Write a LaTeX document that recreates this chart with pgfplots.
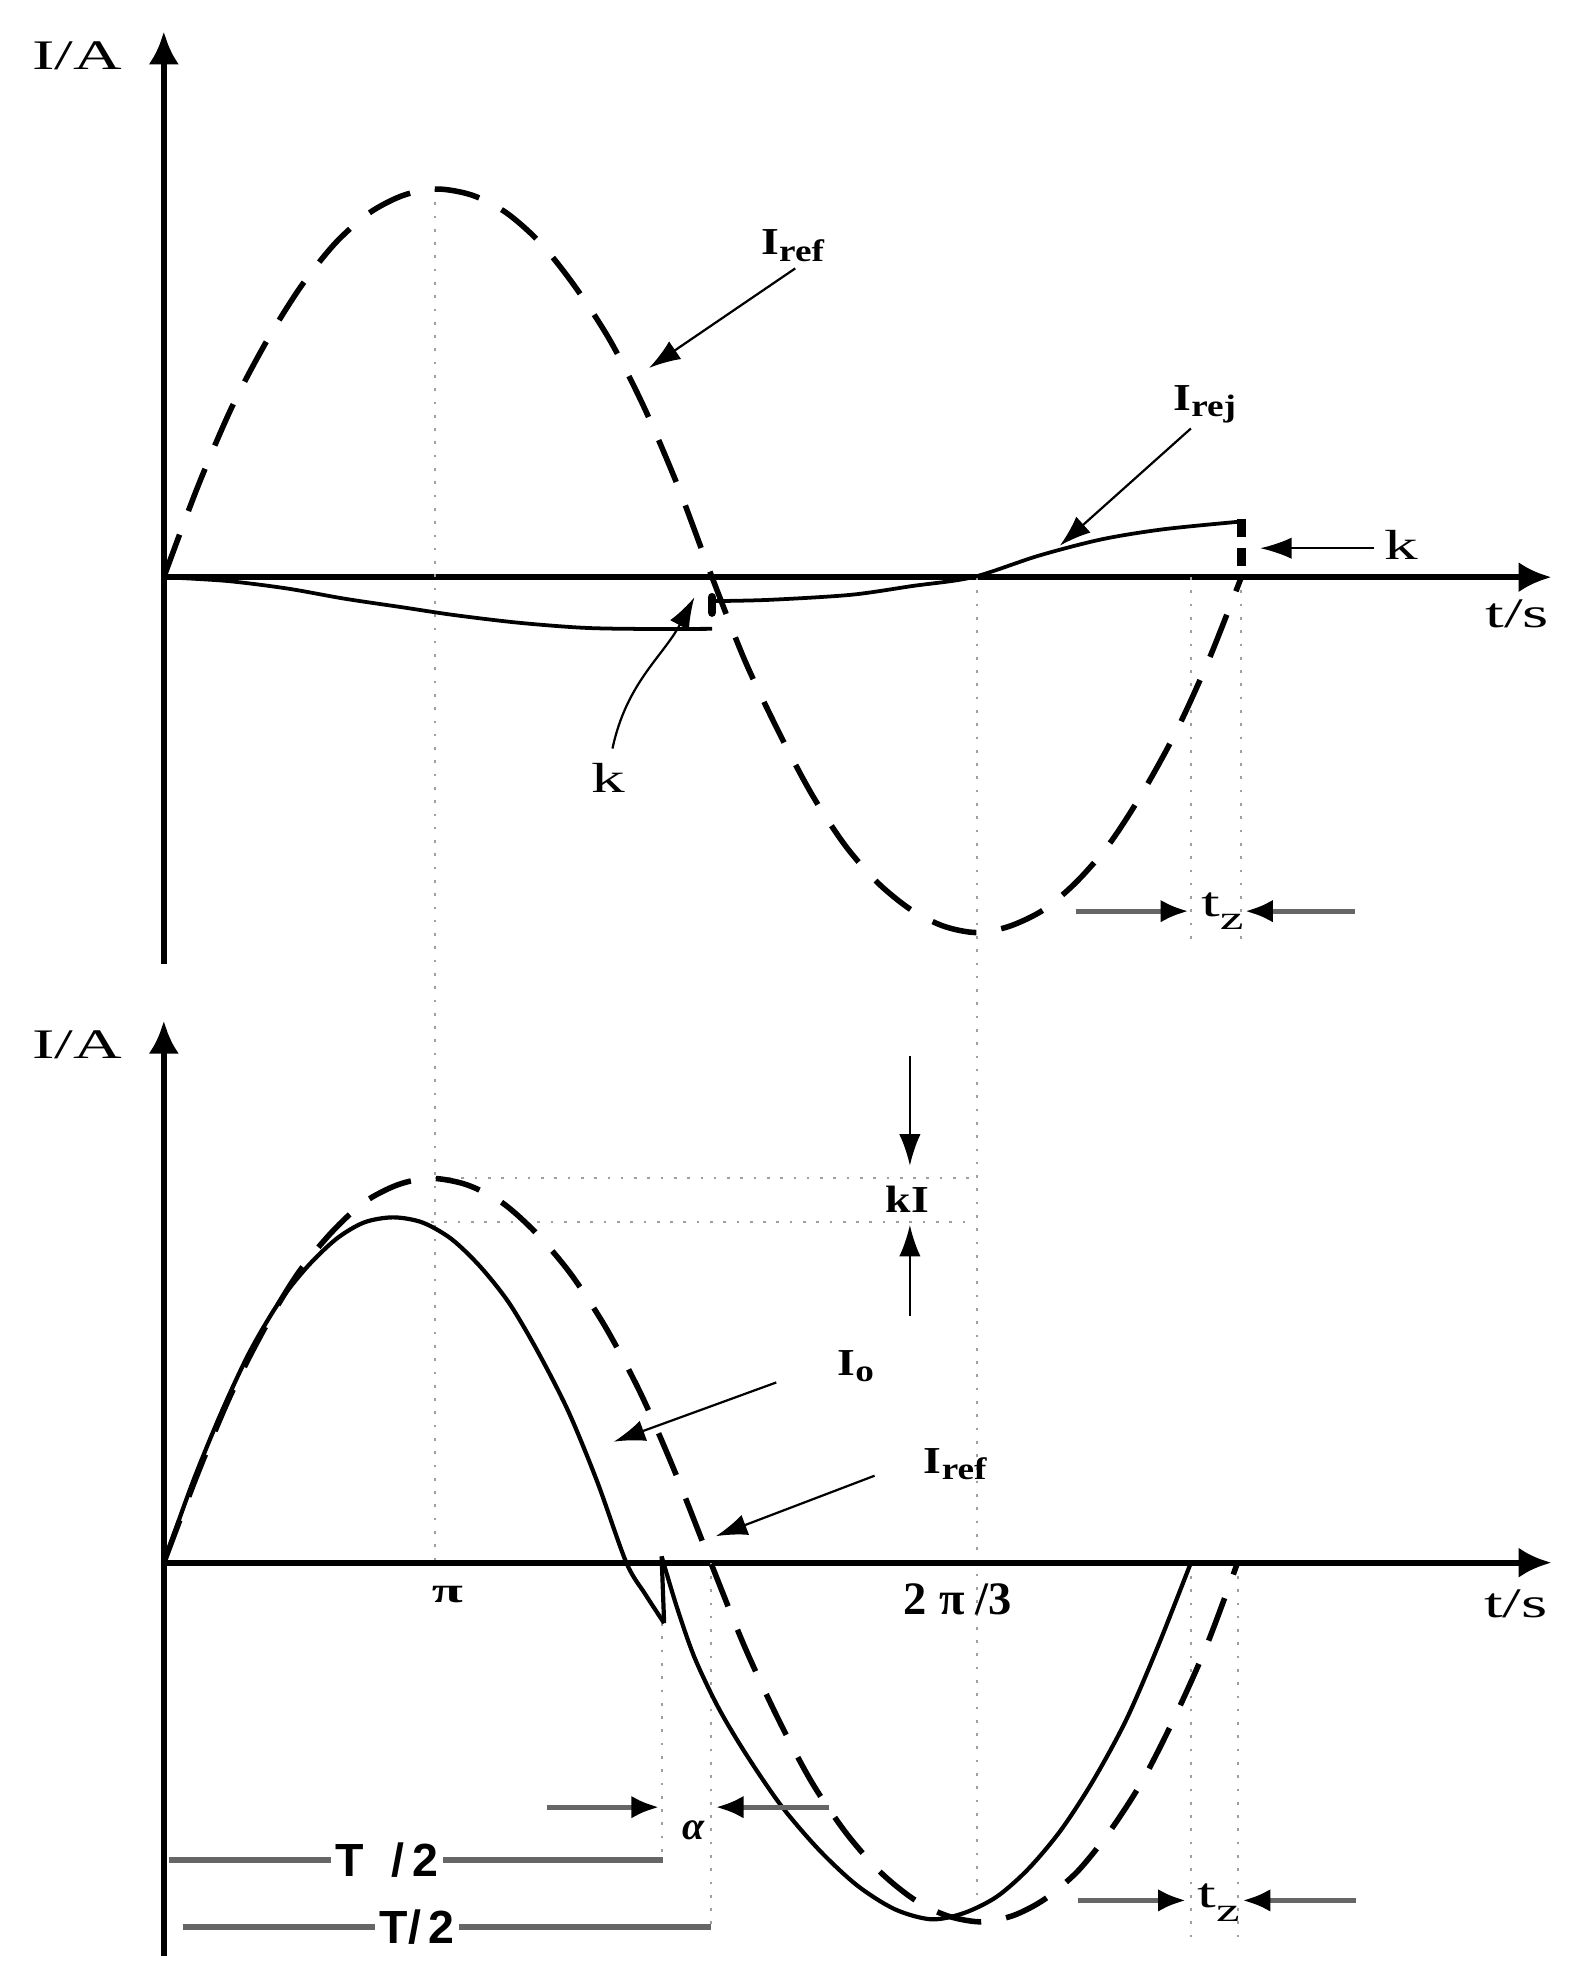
\documentclass[border=0pt]{standalone}
\usepackage{pgfplots}
\pgfplotsset{compat=1.18}
\usetikzlibrary{arrows.meta}
\usepackage{fontspec}
\setmainfont{Liberation Serif}
\newfontfamily\wserif[FakeStretch=1.6]{Liberation Serif}
\newfontfamily\nserif[FakeStretch=1.2]{Liberation Serif}
\newfontfamily\sansf{Liberation Sans}

% bold label with a large, slightly lowered subscript
\newcommand\lbl[2]{{\nserif\bfseries\fontsize{8.6}{9}\selectfont #1\raisebox{-0.5mm}{\fontsize{7}{8}\selectfont #2}}}
\newcommand\wtxt[1]{{\wserif\fontsize{9.5}{11}\selectfont #1}}
\newcommand\tzlabel{{\wserif\fontsize{9.5}{11}\selectfont t\raisebox{-1.1mm}{\fontsize{7.5}{9}\selectfont z}}}

\tikzset{
  guide/.style={gray!75, line width=0.45pt, dash pattern=on 0.6pt off 2.4pt},
  ann/.style={black, line width=0.5pt, -{Latex[length=2.5mm,width=1.7mm]}},
  dim/.style={draw=black!60, line width=1.1pt, -{Latex[length=2.2mm,width=1.8mm,color=black]}},
  iref/.style={black, line width=1.25pt, dash pattern=on 3.6mm off 2mm},
  solidc/.style={black, line width=0.95pt},
}
\pgfplotsset{
  sch/.style={
    x=0.1mm, y=0.1mm, xmin=0, xmax=1101, enlargelimits=false,
    axis lines=middle, ticks=none, clip=false, anchor=south west,
    axis line style={line width=1.35pt},
    every inner x axis line/.append style={-{Latex[length=2.6mm,width=2.4mm]}},
    every inner y axis line/.append style={-{Latex[length=2.6mm,width=2.4mm]}},
  }
}

\begin{document}
\begin{tikzpicture}
\useasboundingbox (0mm,0mm) rectangle (125.5mm,-156.8mm);

% ---------------- top: I_ref and I_rej ----------------
\begin{axis}[sch, at={(13mm,-76.5mm)}, ymin=-307, ymax=433]
  % guide lines (some run down into the lower plot)
  \draw[guide] (215,308) -- (215,-782);
  \draw[guide] (645,0) -- (645,-1062);
  \draw[guide] (815,0) -- (815,-294);
  \draw[guide] (855,0) -- (855,-294);

  % I_ref
  \addplot[iref, smooth] coordinates {
    (0,0) (27,72) (54,135) (82,188) (109,231) (136,265) (163,289) (190,303)
    (217,308) (245,303) (272,289) (299,265) (326,231) (354,188) (381,135)
    (408,72) (435,0) (461,-66) (488,-123) (514,-172) (540,-212) (566,-242)
    (593,-264) (619,-277) (645,-282) (671,-277) (698,-264) (724,-242)
    (750,-212) (776,-172) (803,-123) (829,-66) (855,0) };

  % I_rej, two pieces with a jump k at T/2
  \addplot[solidc, line width=0.85pt, smooth] coordinates {
    (0,0) (50,-3) (98,-9) (143,-17) (190,-24) (230,-30) (280,-36)
    (330,-40) (371,-41) (435,-41) };
  \addplot[solidc, line width=0.85pt, smooth] coordinates {
    (435,-19) (480,-18) (545,-14) (594,-7) (642,0) (694,17) (744,30)
    (793,38) (853,44) };
  \addplot[black, line width=2pt, line cap=round] coordinates {(435,-16) (435,-28)};
  \addplot[black, line width=2pt, dash pattern=on 1.4mm off 0.9mm] coordinates {(855,46) (855,4)};

  % labels and arrows
  \node at (-69,414) {\wtxt{I/A}};
  \node at (1074,-29) {\wtxt{t/s}};
  \node at (499,263) {\lbl{I}{ref}};
  \draw[ann] (501,245) -- (385,166);
  \node at (826,137) {\lbl{I}{rej}};
  \draw[ann] (815,118) -- (711,25);
  \node at (982,26) {\wtxt{k}};
  \draw[ann] (960,23) -- (870,23);
  \node at (353,-159) {\wtxt{k}};
  \draw[ann] (356,-136) to[out=78, in=-118] (421,-16);
  \node at (840,-265) {\tzlabel};
  \draw[dim] (724,-265) -- (813,-265);
  \draw[dim] (945,-265) -- (858,-265);
\end{axis}

% ---------------- bottom: I_o and I_ref ----------------
\begin{axis}[sch, at={(13mm,-155.2mm)}, ymin=-312, ymax=430]
  \draw[guide] (215,305) -- (640,305);
  \draw[guide] (212,270) -- (640,270);
  \draw[guide] (395,-48) -- (395,-236);
  \draw[guide] (434,0) -- (434,-289);
  \draw[guide] (815,0) -- (815,-300);
  \draw[guide] (852,0) -- (852,-300);

  % I_ref
  \addplot[iref, smooth] coordinates {
    (0,0) (27,71) (53,133) (80,186) (106,229) (133,262) (159,286) (186,300)
    (212,305) (240,300) (268,286) (295,262) (323,229) (351,186) (379,133)
    (406,71) (434,0) (461,-67) (488,-125) (514,-174) (541,-214) (568,-245)
    (595,-267) (621,-280) (648,-285) (674,-280) (699,-267) (725,-245)
    (750,-214) (776,-174) (801,-125) (827,-67) (852,0) };

  % I_o
  \addplot[solidc, smooth] coordinates {
    (0,0) (23,64) (46,120) (68,167) (91,206) (114,235) (137,257) (159,270)
    (182,274) (205,270) (228,257) (251,235) (274,206) (297,167) (321,120)
    (344,64) (367,0) (382,-25) (397,-48) };
  \addplot[solidc] coordinates {(397,-48) (395,5)};
  \addplot[solidc, smooth] coordinates {
    (395,5) (407,-35) (421,-75) (440,-115) (462,-152) (490,-193) (520,-228)
    (550,-256) (580,-275) (609,-283) (635,-278) (661,-265) (686,-243)
    (712,-212) (738,-172) (764,-124) (789,-66) (815,0) };

  % labels and arrows
  \node at (-69,411) {\wtxt{I/A}};
  \node at (1073,-33) {\wtxt{t/s}};
  \node at (225,-25) {{\wserif\bfseries\fontsize{8}{9}\selectfont π}};
  \node at (630,-29) {{\bfseries\fontsize{10.5}{12}\selectfont 2\hspace{1mm}π\hspace{0.8mm}/3}};
  \node at (590,288) {{\nserif\bfseries\fontsize{8.6}{9}\selectfont kI}};
  \draw[ann] (592,402) -- (592,315);
  \draw[ann] (592,196) -- (592,268);
  \node at (549,156) {\lbl{I}{o}};
  \draw[ann] (486,143) -- (357,96);
  \node at (628,78) {\lbl{I}{ref}};
  \draw[ann] (564,69) -- (438,21);

  \node at (420,-212) {{\bfseries\itshape\fontsize{9}{10}\selectfont α}};
  \draw[dim] (304,-194) -- (393,-194);
  \draw[dim] (528,-194) -- (438,-194);

  \draw[black!60, line width=1.2pt] (4,-236) -- (396,-236);
  \node[fill=white, inner xsep=1pt, inner ysep=0pt] at (177,-236)
    {{\sansf\bfseries\fontsize{10.5}{12}\selectfont T\hspace{2.2mm}/\hspace{0.6mm}2}};
  \draw[black!60, line width=1.2pt] (15,-289) -- (434,-289);
  \node[fill=white, inner xsep=1pt, inner ysep=0pt] at (201,-289)
    {{\sansf\bfseries\fontsize{10.5}{12}\selectfont T/\hspace{0.6mm}2}};

  \node at (837,-270) {\tzlabel};
  \draw[dim] (725,-268) -- (811,-268);
  \draw[dim] (946,-268) -- (856,-268);
\end{axis}
\end{tikzpicture}
\end{document}
